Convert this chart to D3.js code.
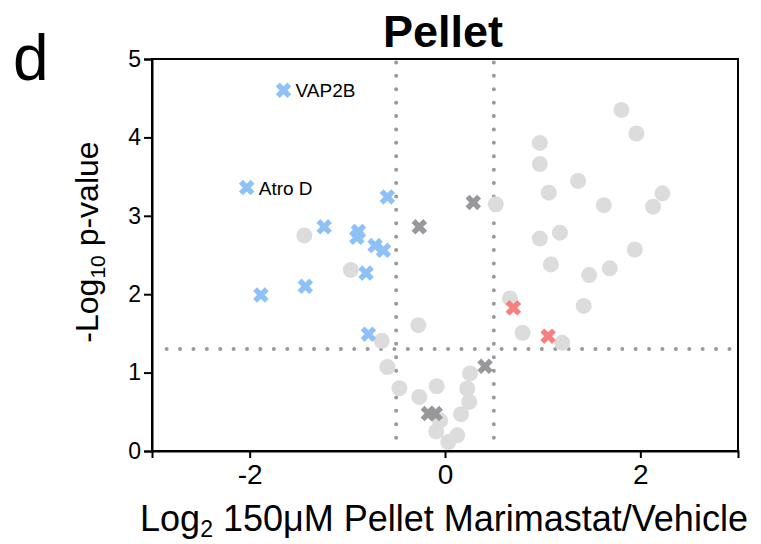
<!DOCTYPE html>
<html>
<head>
<meta charset="utf-8">
<script src="https://cdn.jsdelivr.net/npm/d3@7"></script>
<style>
  body { margin: 0; background: #fff; }
  text { font-family: "Liberation Sans", Arial, sans-serif; fill: #000; }
</style>
</head>
<body>
<div id="chart"></div>
<script>
// volcano data: [log2 fold change, -log10 p]
const nsPoints = [
  [-1.44, 2.75], [-0.964, 2.31], [-0.648, 1.405], [-0.273, 1.605], [-0.59, 1.07],
  [-0.467, 0.80], [-0.263, 0.69], [-0.085, 0.826], [-0.05, 0.39], [-0.09, 0.25],
  [0.034, 0.115], [0.126, 0.20], [0.164, 0.47], [0.248, 0.626], [0.228, 0.797],
  [0.256, 0.99], [0.52, 3.147], [0.665, 1.946], [0.794, 1.507], [1.20, 1.38],
  [1.42, 1.85], [1.476, 2.244], [1.687, 2.33], [1.943, 2.57], [1.084, 2.38],
  [0.971, 2.71], [1.176, 2.785], [1.063, 3.295], [1.363, 3.445], [1.626, 3.135],
  [2.226, 3.287], [2.13, 3.116], [0.971, 3.66], [0.971, 3.93], [1.807, 4.35],
  [1.96, 4.05]
];
const downPoints = [
  [-1.653, 4.60], [-2.03, 3.36], [-0.59, 3.24], [-1.237, 2.86], [-0.886, 2.80],
  [-0.903, 2.725], [-0.716, 2.62], [-0.63, 2.56], [-0.808, 2.27], [-1.43, 2.10],
  [-1.885, 1.99], [-0.784, 1.49]
];
const greyCrossPoints = [
  [-0.263, 2.86], [0.29, 3.17], [-0.17, 0.477], [-0.10, 0.477], [0.41, 1.08]
];
const upPoints = [
  [0.70, 1.826], [1.056, 1.465]
];
const labels = [
  { name: "VAP2B", x: -1.653, y: 4.60 },
  { name: "Atro D", x: -2.03, y: 3.36 }
];
const xTicks = [-2, 0, 2];
const yTicks = [0, 1, 2, 3, 4, 5];
const fcCut = 0.5;
const pCut = -Math.log10(0.05);

const width = 761, height = 544;
const margin = { top: 59, right: 23, bottom: 93, left: 152 };

const svg = d3.select("#chart").append("svg")
  .attr("width", width)
  .attr("height", height);

const x = d3.scaleLinear().domain([-3, 3]).range([margin.left, width - margin.right]);
const y = d3.scaleLinear().domain([0, 5]).range([height - margin.bottom, margin.top]);

// threshold lines (dotted)
const dotted = svg.append("g")
  .attr("stroke", "#9a9a9a")
  .attr("stroke-width", 4)
  .attr("stroke-linecap", "round")
  .attr("stroke-dasharray", "0 13.4");
[-fcCut, fcCut].forEach(v => {
  dotted.append("line")
    .attr("x1", x(v)).attr("x2", x(v))
    .attr("y1", y(0.17)).attr("y2", y(5));
});
dotted.append("line")
  .attr("x1", x(-2.85)).attr("x2", x(2.95))
  .attr("y1", y(pCut)).attr("y2", y(pCut));

// grey circles
svg.append("g").selectAll("circle")
  .data(nsPoints)
  .enter().append("circle")
  .attr("cx", d => x(d[0]))
  .attr("cy", d => y(d[1]))
  .attr("r", 8)
  .attr("fill", "#dcdcdc");

const cross = d3.symbol().type(d3.symbolCross).size(150);
function drawCrosses(data, color) {
  svg.append("g").selectAll("path")
    .data(data)
    .enter().append("path")
    .attr("d", cross)
    .attr("transform", d => "translate(" + x(d[0]) + "," + y(d[1]) + ") rotate(45)")
    .attr("fill", color);
}
drawCrosses(greyCrossPoints, "#98989c");
drawCrosses(downPoints, "#8ec1f5");
drawCrosses(upPoints, "#f77f7f");

svg.append("g").selectAll("text")
  .data(labels)
  .enter().append("text")
  .attr("x", d => x(d.x) + 12)
  .attr("y", d => y(d.y) + 7)
  .style("font-size", "19px")
  .text(d => d.name);

// frame + axes
svg.append("rect")
  .attr("x", margin.left).attr("y", margin.top)
  .attr("width", width - margin.right - margin.left)
  .attr("height", height - margin.bottom - margin.top)
  .attr("fill", "none")
  .attr("stroke", "#000")
  .attr("stroke-width", 2);

const xAxis = svg.append("g")
  .attr("transform", "translate(0," + (height - margin.bottom) + ")")
  .call(d3.axisBottom(x).tickValues(xTicks).tickSize(7).tickPadding(6).tickFormat(d => String(d)));
xAxis.select(".domain").attr("stroke-width", 2);
xAxis.selectAll(".tick line").attr("stroke-width", 2);
xAxis.selectAll("text").style("font-size", "28px").attr("font-family", null);

const yAxis = svg.append("g")
  .attr("transform", "translate(" + margin.left + ",0)")
  .call(d3.axisLeft(y).tickValues(yTicks).tickSize(8).tickPadding(3).tickFormat(d => String(d)));
yAxis.select(".domain").attr("stroke-width", 2);
yAxis.selectAll(".tick line").attr("stroke-width", 2);
yAxis.selectAll("text").style("font-size", "23px").attr("font-family", null);

// titles
svg.append("text")
  .attr("x", 443).attr("y", 47)
  .attr("text-anchor", "middle")
  .style("font-size", "45px")
  .style("font-weight", "bold")
  .text("Pellet");

svg.append("text")
  .attr("x", 13).attr("y", 80)
  .style("font-size", "64px")
  .text("d");

const xl = svg.append("text")
  .attr("x", 444).attr("y", 531)
  .attr("text-anchor", "middle")
  .style("font-size", "36px");
xl.append("tspan").text("Log");
xl.append("tspan").attr("dy", 6).style("font-size", "23px").text("2");
xl.append("tspan").attr("dy", -6).text(" 150\u03BCM Pellet Marimastat/Vehicle");

const yl = svg.append("text")
  .attr("transform", "translate(98,242) rotate(-90)")
  .attr("text-anchor", "middle")
  .style("font-size", "32px");
yl.append("tspan").text("-Log");
yl.append("tspan").attr("dy", 7).style("font-size", "21px").text("10");
yl.append("tspan").attr("dy", -7).text(" p-value");
</script>
</body>
</html>
